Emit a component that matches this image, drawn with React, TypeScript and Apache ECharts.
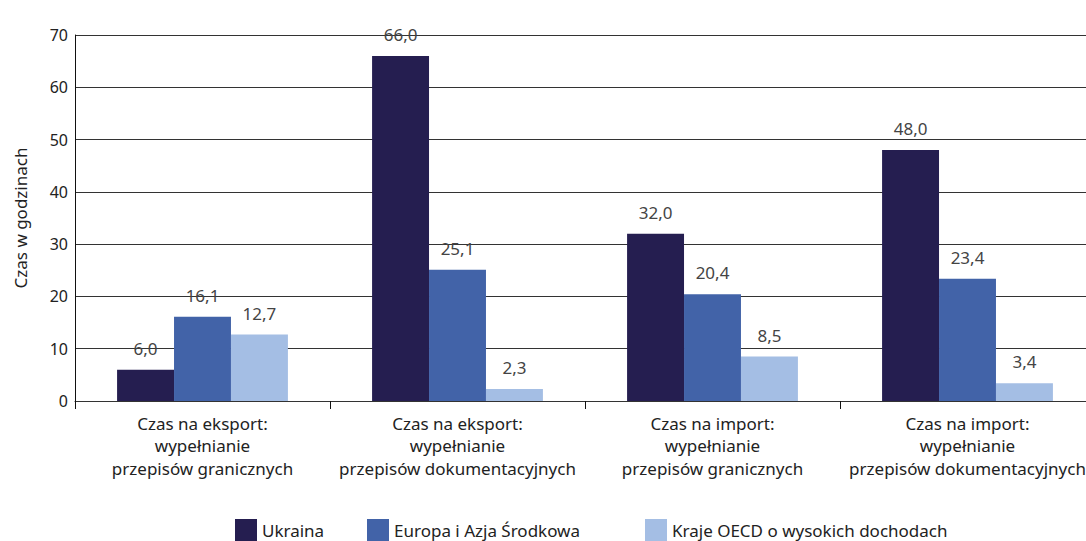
import React, { useEffect, useRef } from "react";
import * as echarts from "echarts";

const categories = [
  "Czas na eksport:\nwypełnianie\nprzepisów granicznych",
  "Czas na eksport:\nwypełnianie\nprzepisów dokumentacyjnych",
  "Czas na import:\nwypełnianie\nprzepisów granicznych",
  "Czas na import:\nwypełnianie\nprzepisów dokumentacyjnych",
];
const seriesNames = ["Ukraina", "Europa i Azja Środkowa", "Kraje OECD o wysokich dochodach"];
const ukraina = [6.0, 66.0, 32.0, 48.0];
const europa = [16.1, 25.1, 20.4, 23.4];
const oecd = [12.7, 2.3, 8.5, 3.4];
const colors = ["#251e50", "#4263a8", "#a4bee4"];

const FONT = "Noto Sans";
const TXT = "#222";

export default function App() {
  const ref = useRef<HTMLDivElement>(null);
  useEffect(() => {
    if (!ref.current) return;
    const chart = echarts.init(ref.current, null, { renderer: "svg" });
    const values = [ukraina, europa, oecd];
    const legendLeft = [230, 362, 640];
    chart.setOption({
      animation: false,
      textStyle: { fontFamily: FONT },
      grid: { left: 75, top: 35, width: 1020, bottom: 140 },
      legend: seriesNames.map((n, i) => ({
        data: [n],
        left: legendLeft[i],
        top: 514,
        itemWidth: 22,
        itemHeight: 22,
        itemGap: 6,
        icon: "rect",
        textStyle: { fontFamily: FONT, fontSize: 17, color: TXT },
      })),
      xAxis: {
        type: "category",
        data: categories,
        axisLine: { lineStyle: { color: "#333", width: 1 } },
        axisTick: { show: true, length: 8, lineStyle: { color: "#111" } },
        axisLabel: {
          fontFamily: FONT,
          fontSize: 17,
          color: TXT,
          lineHeight: 22.5,
          margin: 11,
          interval: 0,
        },
      },
      yAxis: {
        type: "value",
        min: 0,
        max: 70,
        interval: 10,
        name: "Czas w godzinach",
        nameLocation: "middle",
        nameGap: 46,
        nameTextStyle: { fontFamily: FONT, fontSize: 17, color: TXT },
        axisLine: { show: true, lineStyle: { color: "#111" } },
        axisTick: { show: false },
        splitLine: { lineStyle: { color: "#333", width: 1 } },
        axisLabel: { fontFamily: FONT, fontSize: 16, color: TXT, margin: 7 },
      },
      series: seriesNames.map((n, i) => ({
        name: n,
        type: "bar",
        data: values[i],
        barGap: "0%",
        barCategoryGap: "33%",
        itemStyle: { color: colors[i] },
        label: {
          show: true,
          position: "top",
          distance: 13,
          fontFamily: FONT,
          fontSize: 17,
          color: "#444",
          formatter: (p: any) => p.value.toFixed(1).replace(".", ","),
        },
      })),
    });
    return () => chart.dispose();
  }, []);
  return (
    <div style={{ position: "fixed", left: 0, top: 0, width: 1086, height: 541, overflow: "hidden", background: "#fff" }}>
      <div ref={ref} style={{ width: 1100, height: 541 }} />
    </div>
  );
}
